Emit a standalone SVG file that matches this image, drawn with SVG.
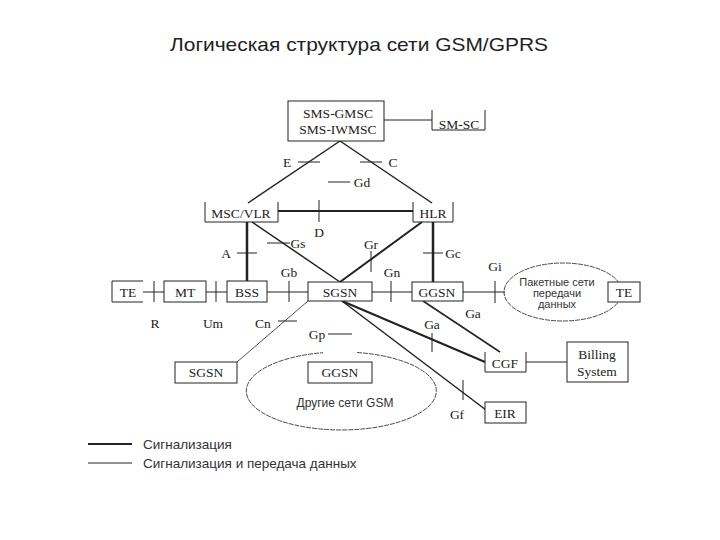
<svg xmlns="http://www.w3.org/2000/svg" width="720" height="540" viewBox="0 0 720 540">
<style>
.bx{fill:#fff;stroke:#222;stroke-width:1}
.br{fill:none;stroke:#222;stroke-width:1}
.t{font-family:"Liberation Serif","Times New Roman",serif;font-size:13.5px;fill:#222;text-anchor:middle}
.s{font-family:"Liberation Sans",Arial,sans-serif;fill:#333}
.c{stroke:#222;fill:none}
.th{stroke-width:2}
.md{stroke-width:1.5}
.tn{stroke-width:1}
.tk{stroke:#222;stroke-width:1}
.el{fill:none;stroke:#333;stroke-width:0.9;stroke-dasharray:5 1}
</style>
<rect width="720" height="540" fill="#fff"/>
<text x="359" y="51" font-family="Liberation Sans, Arial, sans-serif" font-size="19" fill="#222" text-anchor="middle" textLength="378" lengthAdjust="spacingAndGlyphs">Логическая структура сети GSM/GPRS</text>

<g id="connectors">
  <line class="c md" x1="340" y1="141" x2="248" y2="203"/>
  <line class="c md" x1="340" y1="141" x2="432" y2="203"/>
  <line class="c tn" x1="384" y1="120" x2="432" y2="120"/>
  <line class="c th" x1="278" y1="211" x2="413" y2="211"/>
  <line class="c" stroke-width="2.5" x1="247" y1="222" x2="247" y2="281"/>
  <line class="c" stroke-width="2.5" x1="433" y1="222" x2="433" y2="282"/>
  <line class="c md" x1="252" y1="222" x2="340" y2="282"/>
  <line class="c th" x1="422" y1="222" x2="340" y2="282"/>
  <line class="c tn" x1="143" y1="292" x2="164" y2="292"/>
  <line class="c tn" x1="206" y1="292" x2="227" y2="292"/>
  <line class="c tn" x1="267" y1="292" x2="308" y2="292"/>
  <line class="c tn" x1="372" y1="292" x2="412" y2="292"/>
  <line class="c tn" x1="463" y1="292" x2="505" y2="292"/>
  <line class="c th" x1="342" y1="301" x2="485" y2="362"/>
  <line class="c md" x1="342" y1="301" x2="486" y2="410"/>
  <line class="c md" x1="423" y1="301" x2="500" y2="352"/>
  <line class="c" stroke-width="0.8" x1="308" y1="301" x2="237" y2="362"/>
  <line class="c tn" x1="526" y1="362" x2="567" y2="362"/>
  <line class="tk" x1="298" y1="162" x2="320" y2="162"/>
  <line class="tk" x1="360" y1="162" x2="382" y2="162"/>
  <line class="tk" x1="328" y1="182" x2="350" y2="182"/>
  <line class="tk" x1="319" y1="200" x2="319" y2="222"/>
  <line class="tk" x1="237" y1="253" x2="257" y2="253"/>
  <line class="tk" x1="423" y1="253" x2="443" y2="253"/>
  <line class="tk" x1="267" y1="243" x2="290" y2="243"/>
  <line class="tk" x1="371" y1="251" x2="371" y2="272"/>
  <line class="tk" x1="154" y1="281" x2="154" y2="302"/>
  <line class="tk" x1="216" y1="281" x2="216" y2="302"/>
  <line class="tk" x1="289" y1="281" x2="289" y2="302"/>
  <line class="tk" x1="391" y1="281" x2="391" y2="302"/>
  <line class="tk" x1="495" y1="281" x2="495" y2="303"/>
  <line class="tk" x1="278" y1="321" x2="297" y2="321"/>
  <line class="tk" x1="328" y1="334" x2="352" y2="334"/>
  <line class="tk" x1="432" y1="333" x2="432" y2="352"/>
  <line class="tk" x1="463" y1="380" x2="463" y2="400"/>
</g>

<g id="labels">
  <text class="t" x="287" y="167">E</text>
  <text class="t" x="393" y="167">C</text>
  <text class="t" x="362" y="187">Gd</text>
  <text class="t" x="319" y="237">D</text>
  <text class="t" x="226" y="258">A</text>
  <text class="t" x="298" y="248">Gs</text>
  <text class="t" x="371" y="249">Gr</text>
  <text class="t" x="453" y="258">Gc</text>
  <text class="t" x="289" y="277">Gb</text>
  <text class="t" x="392" y="277">Gn</text>
  <text class="t" x="495" y="271">Gi</text>
  <text class="t" x="473" y="318">Ga</text>
  <text class="t" x="432" y="329">Ga</text>
  <text class="t" x="155" y="328">R</text>
  <text class="t" x="213" y="328">Um</text>
  <text class="t" x="263" y="328">Cn</text>
  <text class="t" x="317" y="339">Gp</text>
  <text class="t" x="457" y="419">Gf</text>
</g>

<g id="sms-gmsc">
  <rect class="bx" x="288" y="101" width="96" height="40"/>
  <text class="t" x="338" y="118">SMS-GMSC</text>
  <text class="t" x="338" y="134">SMS-IWMSC</text>
</g>
<g id="sm-sc">
  <path class="br" d="M432 110V130H485V110"/>
  <text class="t" x="459" y="129">SM-SC</text>
</g>
<g id="msc-vlr">
  <path class="br" d="M205 202V222H278V202"/>
  <text class="t" x="241" y="218">MSC/VLR</text>
</g>
<g id="hlr">
  <path class="br" d="M413 202V222H453V202"/>
  <text class="t" x="433" y="218">HLR</text>
</g>
<g id="te-left">
  <path class="br" d="M143 281H112V302H143"/>
  <text class="t" x="128" y="297">TE</text>
</g>
<g id="mt">
  <rect class="bx" x="164" y="281" width="42" height="21"/>
  <text class="t" x="185" y="297">MT</text>
</g>
<g id="bss">
  <rect class="bx" x="227" y="281" width="40" height="21"/>
  <text class="t" x="247" y="297">BSS</text>
</g>
<g id="sgsn">
  <rect class="bx" x="308" y="282" width="64" height="19"/>
  <text class="t" x="340" y="297">SGSN</text>
</g>
<g id="ggsn">
  <rect class="bx" x="412" y="282" width="51" height="19"/>
  <text class="t" x="437" y="297">GGSN</text>
</g>
<g id="packet-networks">
  <ellipse class="el" cx="563" cy="292" rx="59" ry="29"/>
  <text class="s" font-size="11" text-anchor="middle" x="557" y="286">Пакетные сети</text>
  <text class="s" font-size="11" text-anchor="middle" x="557" y="297">передачи</text>
  <text class="s" font-size="11" text-anchor="middle" x="557" y="308">данных</text>
</g>
<g id="te-right">
  <rect class="bx" x="608" y="282" width="32" height="20"/>
  <text class="t" x="624" y="297">TE</text>
</g>
<g id="other-gsm">
  <path class="el" d="M357 352.5A95 39 0 1 1 323 352.7"/>
  <text class="s" font-size="12" text-anchor="middle" x="345" y="407">Другие сети GSM</text>
</g>
<g id="sgsn-2">
  <rect class="bx" x="175" y="362" width="62" height="21"/>
  <text class="t" x="206" y="377">SGSN</text>
</g>
<g id="ggsn-2">
  <rect class="bx" x="308" y="362" width="64" height="21"/>
  <text class="t" x="340" y="377">GGSN</text>
</g>
<g id="cgf">
  <path class="br" d="M485 352V372H526V352"/>
  <text class="t" x="505" y="368">CGF</text>
</g>
<g id="billing">
  <rect class="bx" x="567" y="342" width="61" height="40"/>
  <text class="t" x="597" y="359">Billing</text>
  <text class="t" x="597" y="376">System</text>
</g>
<g id="eir">
  <rect class="bx" x="485" y="402" width="41" height="21"/>
  <text class="t" x="505" y="418">EIR</text>
</g>

<g id="legend">
  <line stroke="#222" stroke-width="2" x1="88" y1="444" x2="132" y2="444"/>
  <line stroke="#222" stroke-width="1" x1="88" y1="463" x2="132" y2="463"/>
  <text class="s" font-size="13.5" x="143" y="449">Сигнализация</text>
  <text class="s" font-size="13.5" x="143" y="468">Сигнализация и передача данных</text>
</g>
</svg>
